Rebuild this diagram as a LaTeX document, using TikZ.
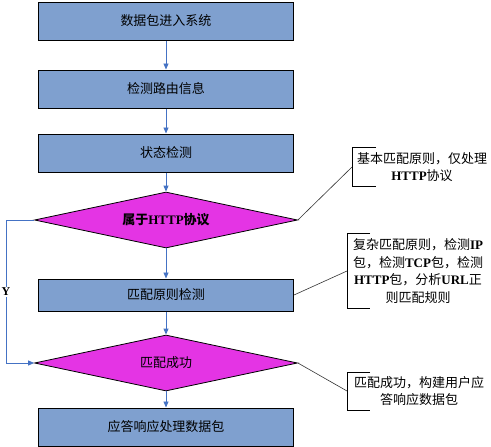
\documentclass[tikz,border=0pt]{standalone}
\usepackage{fontspec}
\setmainfont{Liberation Serif}
\newfontfamily\cjk{Noto Sans CJK SC}
\usetikzlibrary{shapes.geometric,arrows.meta}
\definecolor{boxblue}{RGB}{127,160,207}
\definecolor{diamag}{RGB}{228,52,228}
\definecolor{arrblue}{RGB}{68,114,196}
\newcommand\lat[1]{{\rmfamily\bfseries #1}}
\tikzset{
  procbox/.style={draw=black,line width=1pt,fill=boxblue,minimum width=255pt,minimum height=38pt,inner sep=0pt,font=\cjk\fontsize{13}{16}\selectfont},
  decbox/.style={diamond,draw=black,line width=0.8pt,fill=diamag,minimum width=263pt,minimum height=56pt,aspect=5,inner sep=0pt,font=\cjk\fontsize{13}{16}\selectfont},
  flow/.style={draw=arrblue,line width=0.9pt,-{Triangle[length=6pt,width=5pt]}},
  note/.style={align=center,inner sep=0pt,font=\cjk\fontsize{13}{17.5}\selectfont},
  bracket/.style={draw=black,line width=0.8pt},
  link/.style={draw=black!80,line width=0.6pt}
}
\begin{document}
\begin{tikzpicture}[x=1pt,y=-1pt]
\useasboundingbox (0,0) rectangle (491,447);
\node[procbox] (b1) at (166,21) {数据包进入系统};
\node[procbox] (b2) at (166,89) {检测路由信息};
\node[procbox] (b3) at (166,153) {状态检测};
\node[decbox] (d1) at (166,220) {\bfseries 属于\lat{HTTP}协议};
\node[procbox,minimum height=32pt] (b4) at (166,295) {匹配原则检测};
\node[decbox] (d2) at (166,363) {匹配成功};
\node[procbox] (b5) at (166,427) {应答响应处理数据包};
\draw[flow] (b1) -- (b2);
\draw[flow] (b2) -- (b3);
\draw[flow] (b3) -- (d1);
\draw[flow] (d1) -- (b4);
\draw[flow] (b4) -- (d2);
\draw[flow] (d2) -- (b5);
\coordinate (yturn) at (6,220);
\draw[flow] (d1.west) -- (yturn) |- (d2.west);
\node[fill=white,inner sep=1pt,font=\rmfamily\bfseries\fontsize{12}{14}\selectfont] (ylab) at (6,292) {Y};
% annotation 1
\draw[bracket] (376,147) -- (352,147) -- (352,186) -- (376,186);
\coordinate (k1) at (352,167);
\node[note] (a1) at (422,167) {基本匹配原则，仅处理\\\lat{HTTP}协议};
\draw[link] (d1.east) -- (k1);
% annotation 2
\draw[bracket] (370,233) -- (347,233) -- (347,308) -- (370,308);
\coordinate (k2) at (347,271);
\node[note] (a2) at (418,271) {复杂匹配原则，检测\lat{IP}\\包，检测\lat{TCP}包，检测\\\lat{HTTP}包，分析\lat{URL}正\\则匹配规则};
\draw[link] (b4.east) -- (k2);
% annotation 3
\draw[bracket] (370,372) -- (347,372) -- (347,410) -- (370,410);
\coordinate (k3) at (347,391);
\node[note] (a3) at (419,391) {匹配成功，构建用户应\\答响应数据包};
\draw[link] (d2.east) -- (k3);
\end{tikzpicture}
\end{document}
